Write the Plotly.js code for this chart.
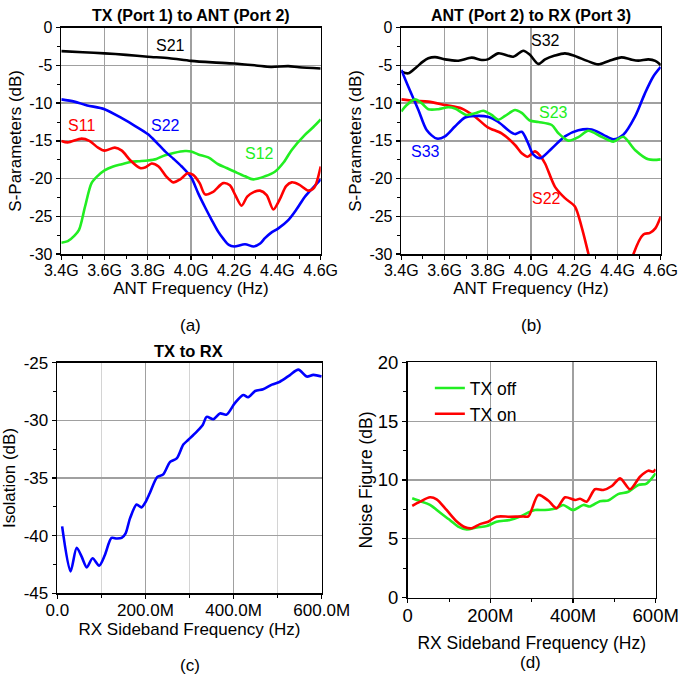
<!DOCTYPE html>
<html>
<head>
<meta charset="utf-8">
<script src="https://cdn.plot.ly/plotly-3.0.1.min.js"></script>
<style>html,body{margin:0;padding:0;background:#fff;}#chart{width:678px;height:679px;}</style>
</head>
<body>
<div id="chart"></div>
<script>
// ---------- Panel (a): TX (Port 1) to ANT (Port 2) ----------
var a_S21_f = [3.4,3.5,3.6,3.7,3.8,3.9,4.0,4.1,4.2,4.3,4.37,4.45,4.5,4.6];
var a_S21_db = [-3.1,-3.25,-3.4,-3.6,-3.85,-4.05,-4.4,-4.6,-4.75,-5.0,-5.2,-5.1,-5.25,-5.4];
var a_S22_f = [3.4,3.46,3.52,3.6,3.68,3.74,3.8,3.84,3.88,3.92,3.957,4.0,4.034,4.065,4.096,4.125,4.15,4.175,4.2,4.25,4.29,4.32,4.342,4.37,4.404,4.45,4.49,4.527,4.565,4.6];
var a_S22_db = [-9.5,-9.8,-10.3,-10.8,-12.0,-13.0,-14.1,-15.2,-16.4,-17.4,-18.4,-19.8,-22.0,-23.8,-25.5,-27.0,-28.0,-28.8,-29.0,-28.7,-29.0,-28.6,-27.9,-27.2,-26.6,-25.5,-24.0,-22.4,-21.2,-20.1];
var a_S11_f = [3.4,3.43,3.494,3.53,3.57,3.6,3.648,3.68,3.72,3.764,3.79,3.818,3.85,3.885,3.918,3.95,3.985,4.01,4.04,4.065,4.1,4.149,4.18,4.205,4.234,4.26,4.29,4.319,4.35,4.381,4.41,4.44,4.466,4.5,4.543,4.57,4.6];
var a_S11_db = [-15.0,-15.2,-14.7,-15.0,-15.9,-16.3,-15.9,-16.3,-17.6,-18.6,-18.5,-18.0,-18.4,-19.7,-20.5,-20.1,-19.3,-19.5,-20.6,-22.1,-21.8,-20.6,-20.9,-22.2,-23.6,-22.4,-21.8,-21.6,-22.2,-24.1,-22.8,-21.0,-20.5,-20.8,-21.6,-21.2,-18.4];
var a_S12_f = [3.4,3.43,3.46,3.482,3.51,3.54,3.57,3.6,3.64,3.68,3.72,3.756,3.8,3.84,3.88,3.92,3.972,4.0,4.034,4.08,4.126,4.165,4.203,4.25,4.288,4.342,4.388,4.43,4.466,4.527,4.565,4.6];
var a_S12_db = [-28.5,-28.3,-27.6,-26.8,-23.7,-20.6,-19.6,-18.9,-18.4,-18.1,-17.8,-17.7,-17.6,-17.4,-16.9,-16.6,-16.35,-16.4,-16.8,-17.2,-18.1,-18.6,-19.1,-19.7,-20.1,-19.7,-19.1,-17.8,-16.2,-14.2,-13.2,-12.15];

// ---------- Panel (b): ANT (Port 2) to RX (Port 3) ----------
var b_S32_f = [3.4,3.432,3.471,3.5,3.525,3.556,3.602,3.664,3.726,3.772,3.8,3.849,3.918,3.964,3.995,4.034,4.065,4.11,4.157,4.203,4.26,4.311,4.36,4.419,4.46,4.496,4.543,4.575,4.6];
var b_S32_db = [-5.8,-6.05,-5.2,-4.5,-4.06,-3.9,-4.2,-4.37,-3.97,-4.28,-4.2,-3.4,-3.84,-3.05,-3.6,-4.8,-4.2,-3.7,-3.4,-3.75,-4.4,-4.86,-4.4,-3.93,-4.2,-4.37,-4.2,-4.4,-4.95];
var b_S33_f = [3.4,3.432,3.479,3.518,3.564,3.602,3.648,3.695,3.741,3.8,3.849,3.895,3.926,3.957,3.985,4.01,4.043,4.096,4.157,4.219,4.281,4.335,4.381,4.427,4.481,4.527,4.565,4.6];
var b_S33_db = [-5.6,-7.8,-10.9,-13.6,-14.7,-14.4,-13.1,-11.9,-11.7,-11.8,-12.5,-13.6,-14.1,-13.8,-15.2,-16.8,-17.3,-16.0,-14.4,-13.6,-13.5,-14.2,-14.8,-14.2,-11.8,-8.7,-6.5,-5.2];
var b_S22_f = [3.4,3.46,3.525,3.602,3.679,3.741,3.8,3.864,3.926,3.957,3.985,4.018,4.04,4.065,4.111,4.157,4.203,4.234,4.265,4.3,4.38,4.45,4.474,4.52,4.55,4.575,4.6];
var b_S22_db = [-9.5,-9.7,-9.8,-10.25,-10.7,-11.8,-13.2,-14.0,-15.55,-16.65,-17.1,-16.4,-16.9,-18.0,-21.1,-22.6,-23.7,-26.4,-29.9,-34,-37,-33,-30,-27.4,-27.2,-26.6,-25.05];
var b_S23_f = [3.4,3.425,3.463,3.494,3.525,3.571,3.617,3.648,3.702,3.741,3.779,3.818,3.849,3.88,3.926,3.957,3.995,4.034,4.096,4.127,4.173,4.219,4.265,4.326,4.381,4.427,4.481,4.543,4.6];
var b_S23_db = [-11.1,-10.25,-9.5,-10.0,-10.8,-10.8,-10.55,-10.7,-11.57,-11.35,-11.0,-11.57,-12.2,-11.7,-10.9,-11.3,-12.3,-12.5,-12.9,-14.0,-14.97,-14.5,-13.66,-14.45,-15.1,-14.45,-16.2,-17.45,-17.45];

// ---------- Panel (c): TX to RX isolation ----------
var c_freq_M = [11,30,44,55,67,80,95,108,123,135,146,155,165,180,191,200,210,227,240,256,271,286,297,316,330,339,354,369,384,403,422,433,449,467,487,505,528,547,566,581,600];
var c_iso_db = [-39.2,-43.1,-41.05,-41.8,-42.75,-41.96,-42.6,-41.68,-40.2,-40.25,-40.2,-39.8,-38.5,-37.3,-37.55,-37.1,-36.3,-34.9,-34.7,-33.6,-33.3,-32.1,-31.7,-31.0,-30.4,-29.7,-29.9,-29.4,-29.5,-28.5,-27.8,-28.0,-27.45,-27.3,-26.9,-26.65,-26.07,-25.6,-26.2,-26.05,-26.2];

// ---------- Panel (d): Noise figure ----------
var d_off_M = [11,30,54,78,102,122,143,167,191,215,247,272,296,308,332,360,376,400,425,441,465,485,509,534,558,578,600];
var d_off_db = [8.44,8.2,7.88,7.23,6.6,6.04,5.8,5.97,6.08,6.45,6.6,6.9,7.3,7.45,7.45,7.6,7.88,7.45,7.88,7.75,8.2,8.25,8.8,9.0,9.58,9.7,10.57];
var d_on_M = [11,30,54,70,94,118,139,155,175,195,215,247,280,292,316,340,360,381,405,417,433,453,473,494,514,538,562,582,594,600];
var d_on_db = [7.8,8.16,8.53,8.36,7.45,6.5,5.98,5.9,6.25,6.45,6.88,6.88,6.9,6.9,8.73,8.25,7.6,8.53,8.3,8.4,8.16,9.21,9.15,9.49,10.14,9.21,10.28,10.79,10.7,10.9];

// ---------- Tick labels ----------
var ab_xvals = [3.4,3.6,3.8,4.0,4.2,4.4,4.6];
var ab_xtext = ['3.4G','3.6G','3.8G','4.0G','4.2G','4.4G','4.6G'];
var ab_yvals = [-30,-25,-20,-15,-10,-5,0];
var ab_ytext = ['-30','-25','-20','-15','-10','-5','0'];
var c_xvals = [0,200,400,600];
var c_xtext = ['0.0','200.0M','400.0M','600.0M'];
var c_yvals = [-45,-40,-35,-30,-25];
var c_ytext = ['-45','-40','-35','-30','-25'];
var d_xvals = [0,200,400,600];
var d_xtext = ['0','200M','400M','600M'];
var d_yvals = [0,5,10,15,20];
var d_ytext = ['0','5','10','15','20'];

var BLACK='#000000', RED='#ff0000', BLUE='#0000ff', GREEN='#22ee22';
var FONT='Liberation Sans, Arial, sans-serif';

function line(x,y,color,xa,ya,name,legend){
  return {x:x,y:y,type:'scatter',mode:'lines',name:name,showlegend:!!legend,
    line:{color:color,width:2.6,shape:'spline',smoothing:0.8},xaxis:xa,yaxis:ya,hoverinfo:'skip'};
}

var data = [
  line(a_S21_f,a_S21_db,BLACK,'x','y','S21'),
  line(a_S12_f,a_S12_db,GREEN,'x','y','S12'),
  line(a_S22_f,a_S22_db,BLUE,'x','y','S22'),
  line(a_S11_f,a_S11_db,RED,'x','y','S11'),
  line(b_S32_f,b_S32_db,BLACK,'x2','y2','S32'),
  line(b_S22_f,b_S22_db,RED,'x2','y2','S22'),
  line(b_S33_f,b_S33_db,BLUE,'x2','y2','S33'),
  line(b_S23_f,b_S23_db,GREEN,'x2','y2','S23'),
  line(c_freq_M,c_iso_db,BLUE,'x3','y3','Isolation'),
  line(d_off_M,d_off_db,GREEN,'x4','y4','TX off',true),
  line(d_on_M,d_on_db,RED,'x4','y4','TX on',true)
];

function ax(dom, anchor, range, vals, text, minorD, tfs, title, titleFs, standoff, isX, minorGrid){
  return {domain:dom, anchor:anchor, range:range, tickmode:'array', tickvals:vals, ticktext:text,
    showgrid:true, gridcolor:'#a0a0a0', gridwidth:1.3, zeroline:false,
    showline:true, linecolor:'#000', linewidth:1.6, mirror:true,
    ticks:'outside', ticklen:4, tickwidth:1.3, tickcolor:'#000',
    ticklabeloverflow:'allow', ticklabelstandoff: isX ? -3 : 0,
    minor:{dtick:minorD, ticks:'outside', ticklen:3, tickwidth:1, tickcolor:'#000',
      showgrid:!!minorGrid, gridcolor:'#d4d4d4', gridwidth:1.2},
    tickfont:{family:FONT,size:tfs,color:'#000'},
    title:{text:title, font:{family:FONT,size:titleFs,color:'#000'}, standoff:standoff},
    automargin:false, fixedrange:true};
}

function lab(text,x,y,size,xref,yref,color){
  return {text:text,xref:xref||'paper',yref:yref||'paper',x:x,y:y,showarrow:false,
    xanchor:'center',yanchor:'middle',font:{family:FONT,size:size,color:color||'#000'}};
}

var layout = {
  width:678, height:679, margin:{l:0,r:0,t:0,b:0},
  paper_bgcolor:'#fff', plot_bgcolor:'#fff',
  font:{family:FONT,color:'#000'},
  showlegend:true,
  legend:{x:0.634, y:0.455, xanchor:'left', yanchor:'top', bgcolor:'rgba(0,0,0,0)',
    font:{family:FONT,size:17.5,color:'#000'}, tracegroupgap:0, itemwidth:30},
  xaxis: ax([0.0904,0.473],'y',[3.4,4.6],ab_xvals,ab_xtext,0.1,16,'ANT Frequency (Hz)',17,4,true),
  yaxis: ax([0.6259,0.9592],'x',[-30,0],ab_yvals,ab_ytext,2.5,16,'S-Parameters (dB)',17,3,false),
  xaxis2: ax([0.5919,0.9745],'y2',[3.4,4.6],ab_xvals,ab_xtext,0.1,16,'ANT Frequency (Hz)',17,4,true),
  yaxis2: ax([0.6259,0.9592],'x2',[-30,0],ab_yvals,ab_ytext,2.5,16,'S-Parameters (dB)',17,3,false),
  xaxis3: ax([0.0845,0.4745],'y3',[0,600],c_xvals,c_xtext,100,17,'RX Sideband Frequency (Hz)',17,4,true,true),
  yaxis3: ax([0.1262,0.4658],'x3',[-45,-25],c_yvals,c_ytext,2.5,17,'Isolation (dB)',17,4,false),
  xaxis4: ax([0.6013,0.9671],'y4',[0,600],d_xvals,d_xtext,100,18.5,'RX Sideband Frequency (Hz)',17.5,11,true),
  yaxis4: ax([0.1198,0.4664],'x4',[0,20],d_yvals,d_ytext,2.5,18.5,'Noise Figure (dB)',17.5,0,false),
  annotations:[
    lab('<b>TX (Port 1) to ANT (Port 2)</b>',191/678,1-15/679,16),
    lab('<b>ANT (Port 2) to RX (Port 3)</b>',531/678,1-15/679,16),
    lab('<b>TX to RX</b>',188/678,1-351/679,16.5),
    lab('(a)',191/678,1-325/679,17),
    lab('(b)',531/678,1-325/679,17),
    lab('(c)',190/678,1-665/679,17),
    lab('(d)',530/678,1-662/679,17),
    lab('S21',3.903,-2.3,16,'x','y',BLACK),
    lab('S11',3.494,-13.0,16,'x','y',RED),
    lab('S22',3.883,-13.0,16,'x','y',BLUE),
    lab('S12',4.316,-16.7,16,'x','y',GREEN),
    lab('S32',4.068,-1.63,16,'x2','y2',BLACK),
    lab('S23',4.103,-11.27,16,'x2','y2',GREEN),
    lab('S33',3.51,-16.4,16,'x2','y2',BLUE),
    lab('S22',4.073,-22.6,16,'x2','y2',RED)
  ]
};

Plotly.newPlot('chart', data, layout, {staticPlot:true, displayModeBar:false});
</script>
</body>
</html>
